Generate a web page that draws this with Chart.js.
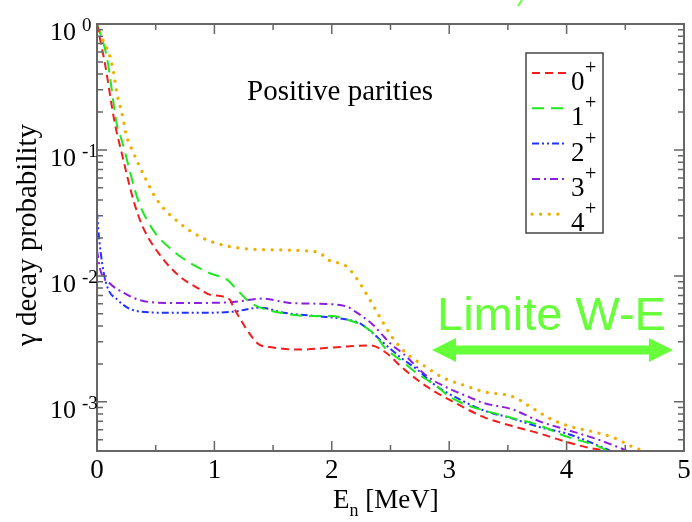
<!DOCTYPE html>
<html lang="en">
<head>
    <meta charset="UTF-8">
    <title>Gamma decay probability</title>
    <style>
        body {
            margin: 0;
            background: #fff;
        }
        .container {
            width: 692px;
            height: 522px;
        }
    </style>
</head>
<body>
    <div class="container">
        <canvas id="gammaChart" width="692" height="522"></canvas>
    </div>
    <script src="https://cdn.jsdelivr.net/npm/chart.js"></script>
    <script>
        // values
        const spins = ['0', '1', '2', '3', '4'];

        const e0 = [0, 0.07, 0.15, 0.21, 0.31, 0.39, 0.55, 0.71, 0.88, 0.96, 1.13, 1.16, 1.2, 1.28, 1.37, 1.5, 1.73, 2.0, 2.33, 2.45, 2.6, 2.73, 2.88, 3.0, 3.29, 3.49, 3.77, 4.0, 4.2, 4.33];
        const p0 = [1.0, 0.47, 0.166, 0.095, 0.040, 0.0245, 0.0141, 0.0098, 0.0078, 0.0071, 0.0065, 0.0057, 0.0049, 0.0037, 0.0029, 0.0027, 0.0026, 0.0027, 0.0028, 0.0025, 0.00187, 0.00149, 0.0012, 0.00104, 0.00076, 0.00066, 0.00056, 0.00048, 0.00043, 0.00041];

        const e1 = [0, 0.085, 0.17, 0.21, 0.35, 0.48, 0.64, 0.79, 0.96, 1.11, 1.19, 1.3, 1.39, 1.56, 1.81, 2.0, 2.13, 2.27, 2.38, 2.45, 2.6, 2.72, 2.9, 3.0, 3.52, 3.75, 4.0, 4.22, 4.35];
        const p1 = [1.0, 0.54, 0.158, 0.12, 0.040, 0.023, 0.016, 0.0127, 0.0105, 0.0093, 0.0078, 0.0062, 0.0056, 0.0051, 0.0048, 0.0048, 0.0045, 0.0040, 0.0033, 0.0027, 0.0021, 0.0017, 0.00132, 0.0011, 0.00075, 0.00066, 0.00053, 0.00046, 0.00041];

        const e2 = [0, 0.02, 0.07, 0.18, 0.37, 0.6, 0.88, 1.16, 1.39, 1.59, 1.87, 2.13, 2.24, 2.35, 2.43, 2.6, 2.73, 2.86, 3.15, 3.35, 3.49, 3.77, 4.0, 4.22, 4.37];
        const p2 = [0.032, 0.019, 0.0093, 0.0064, 0.0052, 0.0051, 0.0051, 0.0052, 0.0056, 0.0051, 0.0048, 0.0045, 0.0042, 0.0035, 0.0030, 0.0022, 0.0018, 0.0014, 0.00098, 0.00082, 0.00076, 0.00063, 0.00056, 0.00047, 0.00041];

        const e3 = [0, 0.03, 0.11, 0.22, 0.37, 0.6, 0.88, 1.16, 1.41, 1.64, 1.9, 2.13, 2.2, 2.27, 2.35, 2.43, 2.5, 2.61, 2.81, 2.98, 3.18, 3.29, 3.54, 3.77, 4.0, 4.22, 4.43, 4.51];
        const p3 = [0.016, 0.011, 0.0087, 0.0074, 0.0064, 0.0061, 0.0061, 0.0062, 0.0066, 0.0061, 0.006, 0.0057, 0.0052, 0.0047, 0.0041, 0.0034, 0.0029, 0.0024, 0.0016, 0.0013, 0.00108, 0.00098, 0.00087, 0.00070, 0.0006, 0.00052, 0.00044, 0.00041];

        const e4 = [0, 0.05, 0.11, 0.14, 0.17, 0.21, 0.25, 0.28, 0.41, 0.52, 0.71, 0.88, 1.03, 1.22, 1.47, 1.88, 1.97, 2.13, 2.23, 2.31, 2.41, 2.51, 2.62, 2.81, 2.95, 3.13, 3.3, 3.54, 3.71, 3.88, 4.05, 4.22, 4.4, 4.56, 4.65];
        const p4 = [1.0, 0.75, 0.55, 0.42, 0.28, 0.20, 0.13, 0.11, 0.06, 0.039, 0.026, 0.0204, 0.018, 0.0166, 0.0161, 0.0155, 0.0134, 0.0118, 0.0090, 0.0068, 0.0047, 0.0033, 0.0025, 0.00187, 0.00155, 0.00135, 0.0012, 0.0011, 0.00089, 0.00072, 0.00063, 0.00058, 0.00052, 0.00044, 0.00041];

        const xTicks = [0, 1, 2, 3, 4, 5];
        const yDecades = [0, -1, -2, -3];
        const yMin = 0.000407;
        const yMax = 1;

        const energies = [e0, e1, e2, e3, e4];
        const probs = [p0, p1, p2, p3, p4];
        const colors = ['#f21d1d', '#1ee81e', '#2233ff', '#8a1fe0', '#f0ae00'];
        const dashes = [[8, 5], [12, 7], [7, 3, 2, 3, 2, 3], [8, 4, 2, 4], [0.1, 8.5]];

        const serif = "'Liberation Serif', 'DejaVu Serif', serif";

        function buildDatasets() {
            return spins.map((s, i) => ({
                label: s + '+',
                data: energies[i].map((e, j) => ({ x: e, y: probs[i][j] })),
                borderColor: colors[i],
                borderWidth: i === 4 ? 3.2 : 2,
                borderDash: dashes[i],
                borderCapStyle: i === 4 ? 'round' : 'butt',
                pointRadius: 0,
                fill: false,
                cubicInterpolationMode: 'monotone'
            }));
        }

        // frame, ticks, labels, legend and the annotation
        const decorPlugin = {
            id: 'decor',
            afterDraw(chart) {
                const ctx = chart.ctx;
                const a = chart.chartArea;
                const xs = chart.scales.x;
                const ys = chart.scales.y;
                ctx.save();

                ctx.strokeStyle = '#666';
                ctx.lineWidth = 2;
                ctx.strokeRect(a.left, a.top, a.right - a.left, a.bottom - a.top);

                ctx.lineWidth = 1.5;
                ctx.beginPath();
                for (let v = 0; v <= 5.001; v += 0.5) {
                    const px = xs.getPixelForValue(v);
                    const len = Math.abs(v - Math.round(v)) < 0.01 ? 10 : 6;
                    ctx.moveTo(px, a.bottom);
                    ctx.lineTo(px, a.bottom - len);
                    ctx.moveTo(px, a.top);
                    ctx.lineTo(px, a.top + len);
                }
                for (let d = -4; d <= 0; d++) {
                    for (let m = 1; m <= 9; m++) {
                        const v = m * Math.pow(10, d);
                        if (v < yMin || v > yMax) continue;
                        const py = ys.getPixelForValue(v);
                        const len = m === 1 ? 10 : 6;
                        ctx.moveTo(a.left, py);
                        ctx.lineTo(a.left + len, py);
                        ctx.moveTo(a.right, py);
                        ctx.lineTo(a.right - len, py);
                    }
                }
                ctx.stroke();

                ctx.fillStyle = '#000';
                ctx.textBaseline = 'alphabetic';

                // x tick labels
                ctx.font = '27px ' + serif;
                ctx.textAlign = 'center';
                xTicks.forEach(v => {
                    ctx.fillText(String(v), xs.getPixelForValue(v), a.bottom + 27);
                });

                // y tick labels 10^n
                ctx.textAlign = 'left';
                yDecades.forEach(d => {
                    const py = ys.getPixelForValue(Math.pow(10, d));
                    ctx.font = '26px ' + serif;
                    ctx.fillText('10', 50, py + 16);
                    ctx.font = '19px ' + serif;
                    ctx.fillText(d === 0 ? '0' : '-' + Math.abs(d), 82, py + 7);
                });

                // axis titles
                ctx.font = '27px ' + serif;
                ctx.fillText('E', 333, 508);
                const ew = ctx.measureText('E').width;
                ctx.font = '18px ' + serif;
                ctx.fillText('n', 333 + ew, 516);
                const nw = ctx.measureText('n').width;
                ctx.font = '27px ' + serif;
                ctx.fillText(' [MeV]', 333 + ew + nw, 508);

                ctx.save();
                ctx.translate(36, 235);
                ctx.rotate(-Math.PI / 2);
                ctx.textAlign = 'center';
                ctx.font = '29px ' + serif;
                ctx.fillText('\u03b3 decay probability', 0, 0);
                ctx.restore();

                // inner title
                ctx.font = '29px ' + serif;
                ctx.textAlign = 'left';
                ctx.fillText('Positive parities', 247, 100);

                // legend box
                ctx.strokeStyle = '#444';
                ctx.lineWidth = 1.5;
                ctx.strokeRect(526, 53, 77, 180);
                chart.data.datasets.forEach((ds, i) => {
                    const ly = 73 + i * 35.3;
                    ctx.save();
                    ctx.strokeStyle = ds.borderColor;
                    ctx.lineWidth = ds.borderWidth;
                    ctx.lineCap = ds.borderCapStyle;
                    ctx.setLineDash(ds.borderDash);
                    ctx.beginPath();
                    ctx.moveTo(532, ly);
                    ctx.lineTo(566, ly);
                    ctx.stroke();
                    ctx.restore();
                    ctx.fillStyle = '#000';
                    ctx.font = '27px ' + serif;
                    ctx.fillText(spins[i], 571, ly + 17);
                    ctx.font = '20px ' + serif;
                    ctx.fillText('+', 585, ly + 1);
                });

                // Limite W-E annotation
                const green = '#66ff3a';
                ctx.fillStyle = green;
                ctx.font = "47px 'Liberation Sans', Arial, sans-serif";
                ctx.fillText('Limite W-E', 437, 330);

                const ax0 = 432, ax1 = 673, ay = 350;
                ctx.fillRect(ax0 + 20, ay - 4.5, ax1 - ax0 - 40, 9);
                ctx.beginPath();
                ctx.moveTo(ax0, ay);
                ctx.lineTo(ax0 + 24, ay - 12);
                ctx.lineTo(ax0 + 24, ay + 12);
                ctx.closePath();
                ctx.moveTo(ax1, ay);
                ctx.lineTo(ax1 - 24, ay - 12);
                ctx.lineTo(ax1 - 24, ay + 12);
                ctx.closePath();
                ctx.fill();

                // small green mark at the top edge
                ctx.strokeStyle = green;
                ctx.lineWidth = 2;
                ctx.beginPath();
                ctx.moveTo(518, 6);
                ctx.lineTo(522, 0);
                ctx.stroke();

                ctx.restore();
            }
        };

        const ctx = document.getElementById('gammaChart').getContext('2d');
        const chart = new Chart(ctx, {
            type: 'line',
            data: { datasets: buildDatasets() },
            options: {
                responsive: false,
                animation: false,
                layout: {
                    padding: { left: 97, right: 8, top: 24, bottom: 71 }
                },
                scales: {
                    x: {
                        type: 'linear',
                        min: 0,
                        max: 5,
                        display: false
                    },
                    y: {
                        type: 'logarithmic',
                        min: yMin,
                        max: yMax,
                        display: false
                    }
                },
                plugins: {
                    legend: { display: false },
                    tooltip: { enabled: false }
                }
            },
            plugins: [decorPlugin]
        });
    </script>
</body>
</html>
